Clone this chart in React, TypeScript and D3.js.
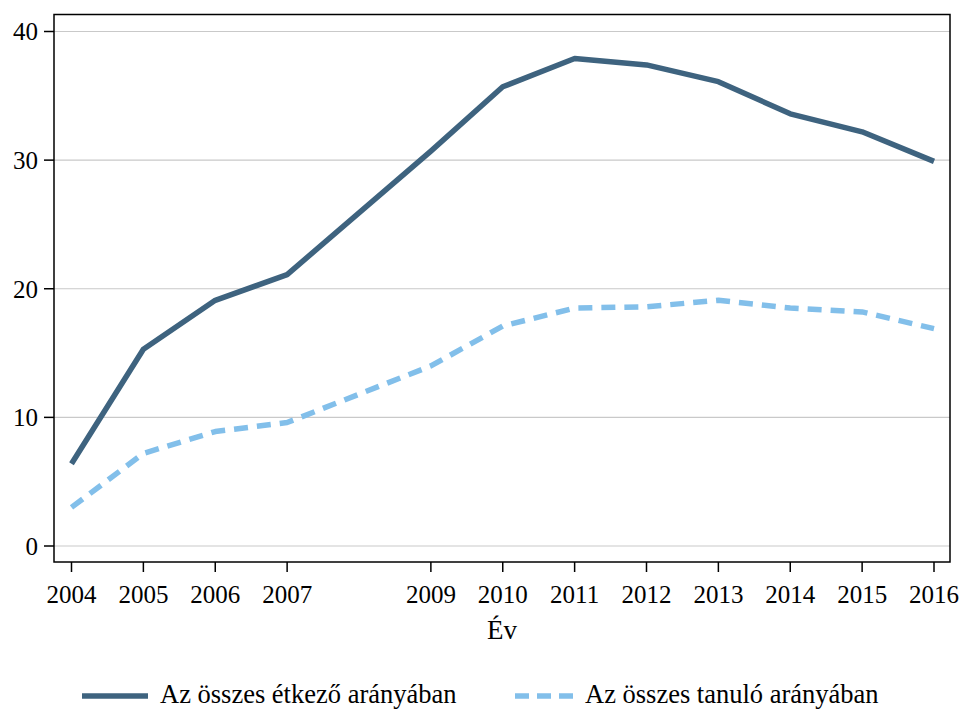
import React from "react";
import * as d3 from "d3";

const years = [2004, 2005, 2006, 2007, 2009, 2010, 2011, 2012, 2013, 2014, 2015, 2016];
const etkezo = [6.4, 15.3, 19.1, 21.1, 30.7, 35.7, 37.9, 37.4, 36.1, 33.6, 32.2, 29.9];
const tanulo = [3.0, 7.2, 8.9, 9.6, 14.0, 17.1, 18.5, 18.6, 19.1, 18.5, 18.2, 16.9];
const yTicks = [0, 10, 20, 30, 40];
const xTicks = [2004, 2005, 2006, 2007, 2009, 2010, 2011, 2012, 2013, 2014, 2015, 2016];
const seriesNames = ["Az összes étkező arányában", "Az összes tanuló arányában"];
const xTitle = "Év";

const W = 964;
const H = 711;
const frame = { left: 54, right: 950, top: 14.5, bottom: 562 };
const FONT = "'Liberation Serif', 'Times New Roman', serif";
const DARK = "#3e637f";
const LIGHT = "#82bfea";

export default function App() {
  const x = d3.scaleLinear().domain([2004, 2016]).range([71.5, 934]);
  const y = d3.scaleLinear().domain([0, 40]).range([546, 31.5]);
  const line = d3
    .line<[number, number]>()
    .x((d) => x(d[0]))
    .y((d) => y(d[1]));
  const d1 = line(years.map((yr, i) => [yr, etkezo[i]]) as [number, number][]) || "";
  const d2 = line(years.map((yr, i) => [yr, tanulo[i]]) as [number, number][]) || "";

  return (
    <svg
      width={W}
      height={H}
      style={{ position: "fixed", left: 0, top: 0, background: "#fff" }}
      fontFamily={FONT}
    >
      <rect x={0} y={0} width={W} height={H} fill="#fff" />
      {yTicks.map((t) => (
        <g key={"g" + t}>
          <line x1={frame.left} x2={frame.right} y1={y(t)} y2={y(t)} stroke="#c9c9c9" strokeWidth={1.2} />
          <line x1={44} x2={frame.left} y1={y(t)} y2={y(t)} stroke="#000" strokeWidth={1.5} />
          <text x={38} y={y(t)} dy="0.35em" textAnchor="end" fontSize={25} fill="#000">
            {t}
          </text>
        </g>
      ))}
      {xTicks.map((t) => (
        <g key={"x" + t}>
          <line x1={x(t)} x2={x(t)} y1={frame.bottom} y2={frame.bottom + 10} stroke="#000" strokeWidth={1.5} />
          <text x={x(t)} y={603} textAnchor="middle" fontSize={25} fill="#000">
            {t}
          </text>
        </g>
      ))}
      <text x={(frame.left + frame.right) / 2} y={639} textAnchor="middle" fontSize={27} fill="#000">
        {xTitle}
      </text>
      <path d={d1} fill="none" stroke={DARK} strokeWidth={5.5} strokeLinejoin="round" />
      <path
        d={d2}
        fill="none"
        stroke={LIGHT}
        strokeWidth={5.5}
        strokeDasharray="14 9"
        strokeLinejoin="round"
      />
      <rect
        x={frame.left}
        y={frame.top}
        width={frame.right - frame.left}
        height={frame.bottom - frame.top}
        fill="none"
        stroke="#000"
        strokeWidth={1.5}
      />
      <line x1={82} x2={148} y1={696} y2={696} stroke={DARK} strokeWidth={5.5} />
      <text x={160} y={703} fontSize={26.5} fill="#000">
        {seriesNames[0]}
      </text>
      <line x1={515} x2={574} y1={696} y2={696} stroke={LIGHT} strokeWidth={5.5} strokeDasharray="14 8" />
      <text x={585} y={703} fontSize={26.5} fill="#000">
        {seriesNames[1]}
      </text>
    </svg>
  );
}
